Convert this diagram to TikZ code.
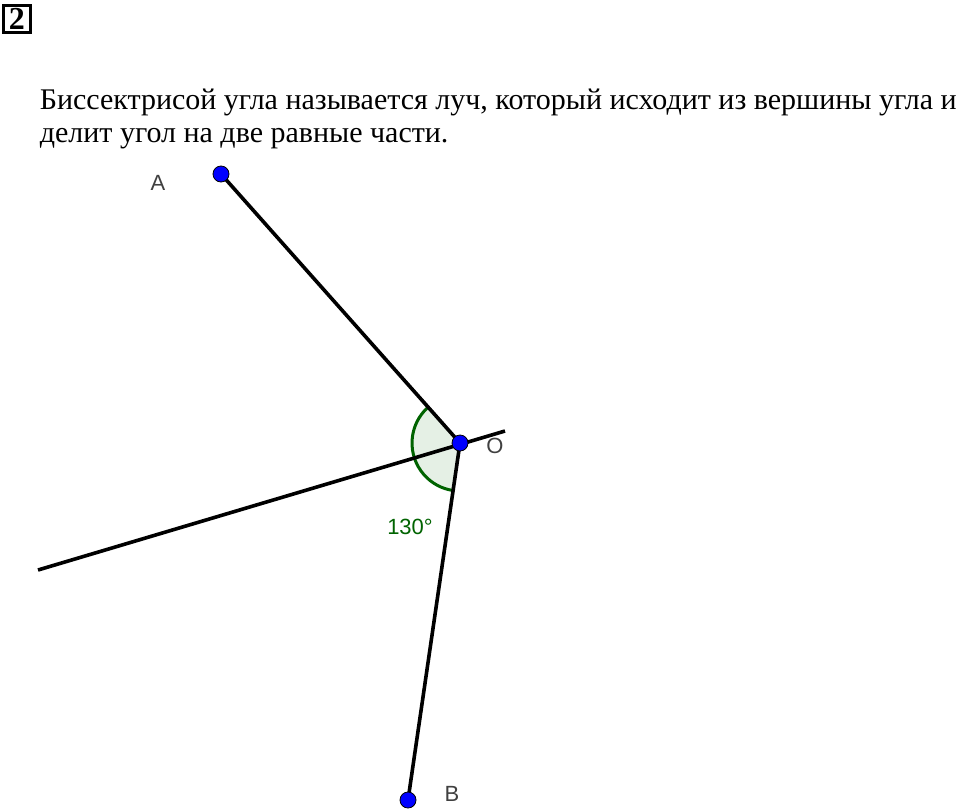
\documentclass[tikz,border=0pt]{standalone}
\usepackage{fontspec}
\setmainfont{Liberation Serif}
\newfontfamily\labelfont{Liberation Sans}
\usepackage{xcolor}
\usetikzlibrary{positioning}
\usetikzlibrary{calc}

\definecolor{anglegreen}{rgb}{0,0.39,0}
\definecolor{anglefill}{rgb}{0.9,0.94,0.9}
\definecolor{labelgray}{gray}{0.25}

\begin{document}
\begin{tikzpicture}[x=1pt,y=-1pt,line width=3.6pt,
                    point/.style={circle,draw=black,line width=0.8pt,fill=blue,inner sep=0pt,minimum size=16pt},
                    lbl/.style={font=\labelfont\fontsize{22}{22}\selectfont,text=labelgray}]
\useasboundingbox (0,0) rectangle (960,811);

% header
\node[draw,line width=2.6pt,inner sep=0pt,minimum size=27pt,font=\bfseries\fontsize{32}{32}\selectfont] (num) at (17,19) {2};
\node[anchor=base west,inner sep=0pt,font=\fontsize{30}{30}\selectfont] (line1) at (38,109)
  {Биссектрисой угла называется луч, который исходит из вершины угла и};
\node[anchor=base west,inner sep=0pt,font=\fontsize{30}{30}\selectfont] (line2) at (38,142)
  {делит угол на две равные части.};

% points
\coordinate (O) at (460,443);
\coordinate (A) at (221,174);
\coordinate (B) at (408,800);
\coordinate (left) at (38,570);
\coordinate (right) at (505,431);

% angle AOB
\fill[anglefill] (O) -- ($(O)+(-131.6:48)$) arc[start angle=-131.6,end angle=-261.6,radius=48] -- cycle;
\draw[anglegreen,line width=3pt] ($(O)+(-131.6:48)$) arc[start angle=-131.6,end angle=-261.6,radius=48];

\draw (A) -- (O) -- (B);
\draw (left) -- (right);

\node[point] (a) at (A) {};
\node[point] (o) at (O) {};
\node[point] (b) at (B) {};

\node[lbl] (la) at (158,183) {A};
\node[lbl] (lo) at (495,446) {O};
\node[lbl] (lb) at (452,794) {B};
\node[lbl,text=anglegreen] (ang) at (410,527) {130°};

\end{tikzpicture}
\end{document}
